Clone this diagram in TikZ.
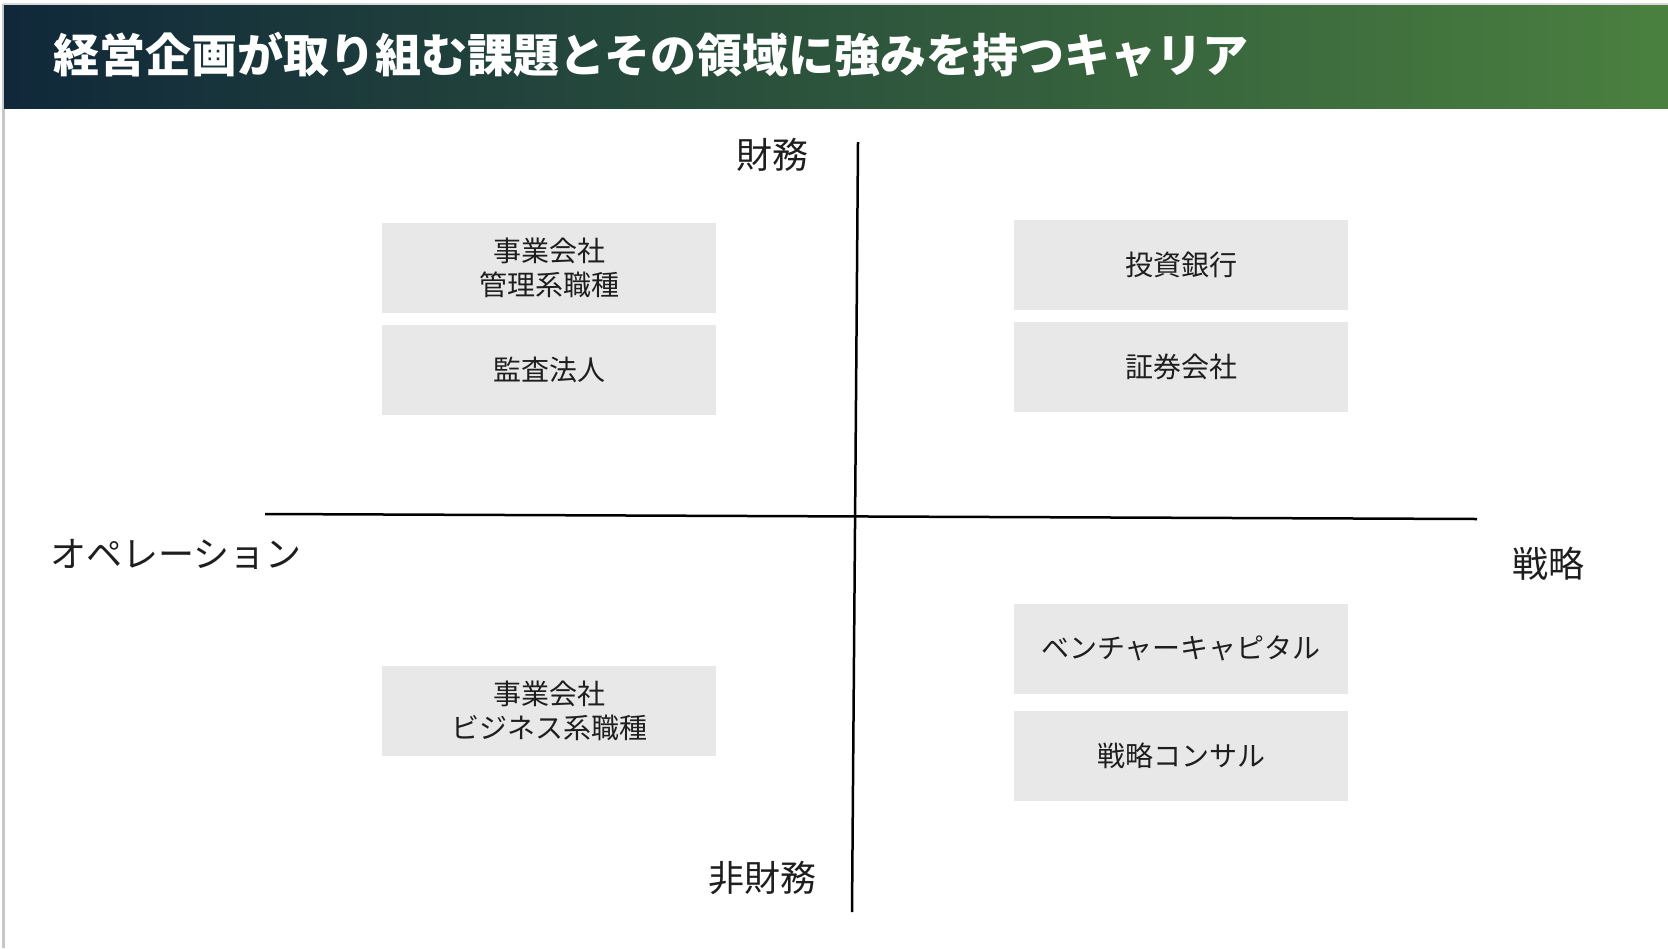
\documentclass[tikz,border=0pt]{standalone}
\usepackage{fontspec}
\setmainfont{Noto Sans CJK JP}
\definecolor{hdark}{HTML}{10283A}
\definecolor{hmid}{HTML}{2F5A24}
\definecolor{hright}{HTML}{4A803F}
\definecolor{boxgray}{HTML}{E8E8E8}
\definecolor{txt}{HTML}{1E1E1E}
\tikzset{
  cell/.style={fill=boxgray, draw=none, minimum width=167pt, minimum height=45pt,
    inner sep=0pt, align=center, text=txt, font=\fontsize{14}{17}\selectfont},
  axislbl/.style={text=txt, inner sep=0pt, font=\fontsize{18}{22}\selectfont},
  axisline/.style={line width=1.25pt, draw=black}
}
\begin{document}
\begin{tikzpicture}[x=0.5pt,y=-0.5pt]
\useasboundingbox (0,0) rectangle (1668,948);
\fill[white] (0,0) rectangle (1668,948);
% frame lines
\draw[line width=1.5pt, draw=black!22] (3,4) -- (3,948);
\draw[line width=0.8pt, draw=black!15] (3,4) -- (1668,4);
% header
\shade[left color=hdark, middle color=hmid, right color=hright] (4,5) rectangle (1668,108);
\node[anchor=west, text=white, inner sep=0pt, font=\fontsize{23}{28}\selectfont\bfseries] (title) at (53,55) {経営企画が取り組む課題とその領域に強みを持つキャリア};
% axes
\coordinate (vtop) at (858,142);
\coordinate (vbot) at (852,912);
\coordinate (hl) at (265,514);
\coordinate (hr) at (1477,519);
\draw[axisline] (vtop) -- (vbot);
\draw[axisline] (hl) -- (hr);
% axis labels
\node[axislbl] (fin) at (772,155) {財務};
\node[axislbl] (nonfin) at (762,878) {非財務};
\node[axislbl] (ops) at (176,554) {オペレーション};
\node[axislbl] (strat) at (1548,564) {戦略};
% boxes
\node[cell] (jigyo1) at (549,267.5) {事業会社\\管理系職種};
\node[cell] (kansa) at (549,370) {監査法人};
\node[cell] (toushi) at (1181,265) {投資銀行};
\node[cell] (shoken) at (1181,366.5) {証券会社};
\node[cell] (vc) at (1181,648.5) {ベンチャーキャピタル};
\node[cell] (consul) at (1181,756) {戦略コンサル};
\node[cell] (jigyo2) at (549,711) {事業会社\\ビジネス系職種};
\end{tikzpicture}
\end{document}
